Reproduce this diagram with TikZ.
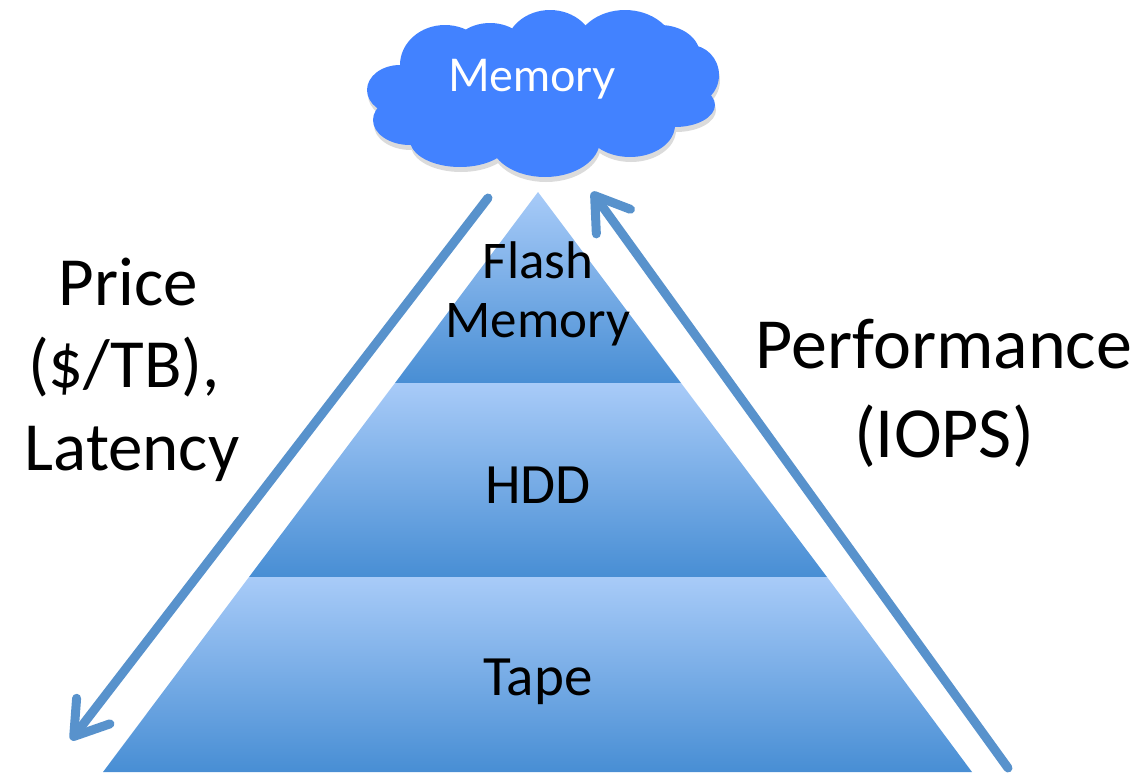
\documentclass[tikz,border=0pt]{standalone}
\usepackage{fontspec}
\setmainfont{Carlito}
\newfontfamily\gillfont{Lato}
\usetikzlibrary{arrows.meta}
\definecolor{cloudblue}{RGB}{66,130,255}
\definecolor{arrowblue}{RGB}{88,146,204}
\definecolor{bandtop}{RGB}{168,203,248}
\definecolor{bandbot}{RGB}{72,142,212}
\newcommand\mycloudpath{%
  (400,90) ellipse [x radius=33, y radius=25]
  (410,120) ellipse [x radius=37, y radius=25]
  (460,140) ellipse [x radius=50, y radius=27]
  (545,140) ellipse [x radius=55, y radius=37]
  (630,125) ellipse [x radius=45, y radius=32]
  (675,105) ellipse [x radius=40, y radius=22]
  (690,75) ellipse [x radius=29, y radius=30]
  (660,55) ellipse [x radius=40, y radius=30]
  (625,50) ellipse [x radius=50, y radius=40]
  (550,50) ellipse [x radius=45, y radius=40]
  (490,55) ellipse [x radius=40, y radius=32]
  (445,65) ellipse [x radius=45, y radius=40]
  (545,90) ellipse [x radius=140, y radius=50]}
\begin{document}
\begin{tikzpicture}[x=1pt,y=-1pt,
  band/.style={top color=bandtop, bottom color=bandbot, draw=none},
  lbl/.style={text=black, inner sep=0pt, anchor=base},
  side/.style={lbl, font=\fontsize{69}{76}\selectfont},
  arr/.style={draw=arrowblue, line width=9pt, line cap=round,
    -{Straight Barb[length=32pt,width=42pt,round]}}]
\useasboundingbox (0,0) rectangle (1148,772);
% pyramid corners
\coordinate (apex) at (538,192);
\coordinate (fl) at (395,383);
\coordinate (fr) at (681,383);
\coordinate (hl) at (249,577);
\coordinate (hr) at (827,577);
\coordinate (bl) at (103,772);
\coordinate (br) at (972,772);
\shade[band] (apex) -- (fr) -- (fl) -- cycle;
\shade[band] (fl) -- (fr) -- (hr) -- (hl) -- cycle;
\shade[band] (hl) -- (hr) -- (br) -- (bl) -- cycle;
% band labels
\node[lbl, font=\fontsize{53}{58}\selectfont] (flash) at (538,278) {Flash};
\node[lbl, font=\fontsize{53}{58}\selectfont] (flashmem) at (538,337) {Memory};
\node[lbl, font=\fontsize{57}{62}\selectfont] (hdd) at (538,503) {HDD};
\node[lbl, font=\fontsize{57}{62}\selectfont] (tape) at (538,695) {Tape};
% cloud with soft shadow
\begin{scope}[shift={(1,5)}]
  \fill[black, opacity=0.14] \mycloudpath;
\end{scope}
\fill[cloudblue] \mycloudpath;
\node[lbl, text=white, font=\gillfont\fontsize{45}{50}\selectfont] (mem) at (532,91) {Memory};
% side labels
\node[side] (price) at (128,305) {Price};
\node[side] (pricetb) at (124,387) {(\$/TB),};
\node[side] (latency) at (132,470) {Latency};
\node[lbl, font=\fontsize{72}{78}\selectfont] (perf) at (944,368) {Performance};
\node[lbl, font=\fontsize{72}{78}\selectfont] (iops) at (944,457) {(IOPS)};
% arrows
\coordinate (la1) at (488,198);
\coordinate (la2) at (71,740);
\coordinate (ra1) at (1008,768);
\coordinate (ra2) at (592,192);
\draw[arr] (la1) -- (la2);
\draw[arr] (ra1) -- (ra2);
\end{tikzpicture}
\end{document}
